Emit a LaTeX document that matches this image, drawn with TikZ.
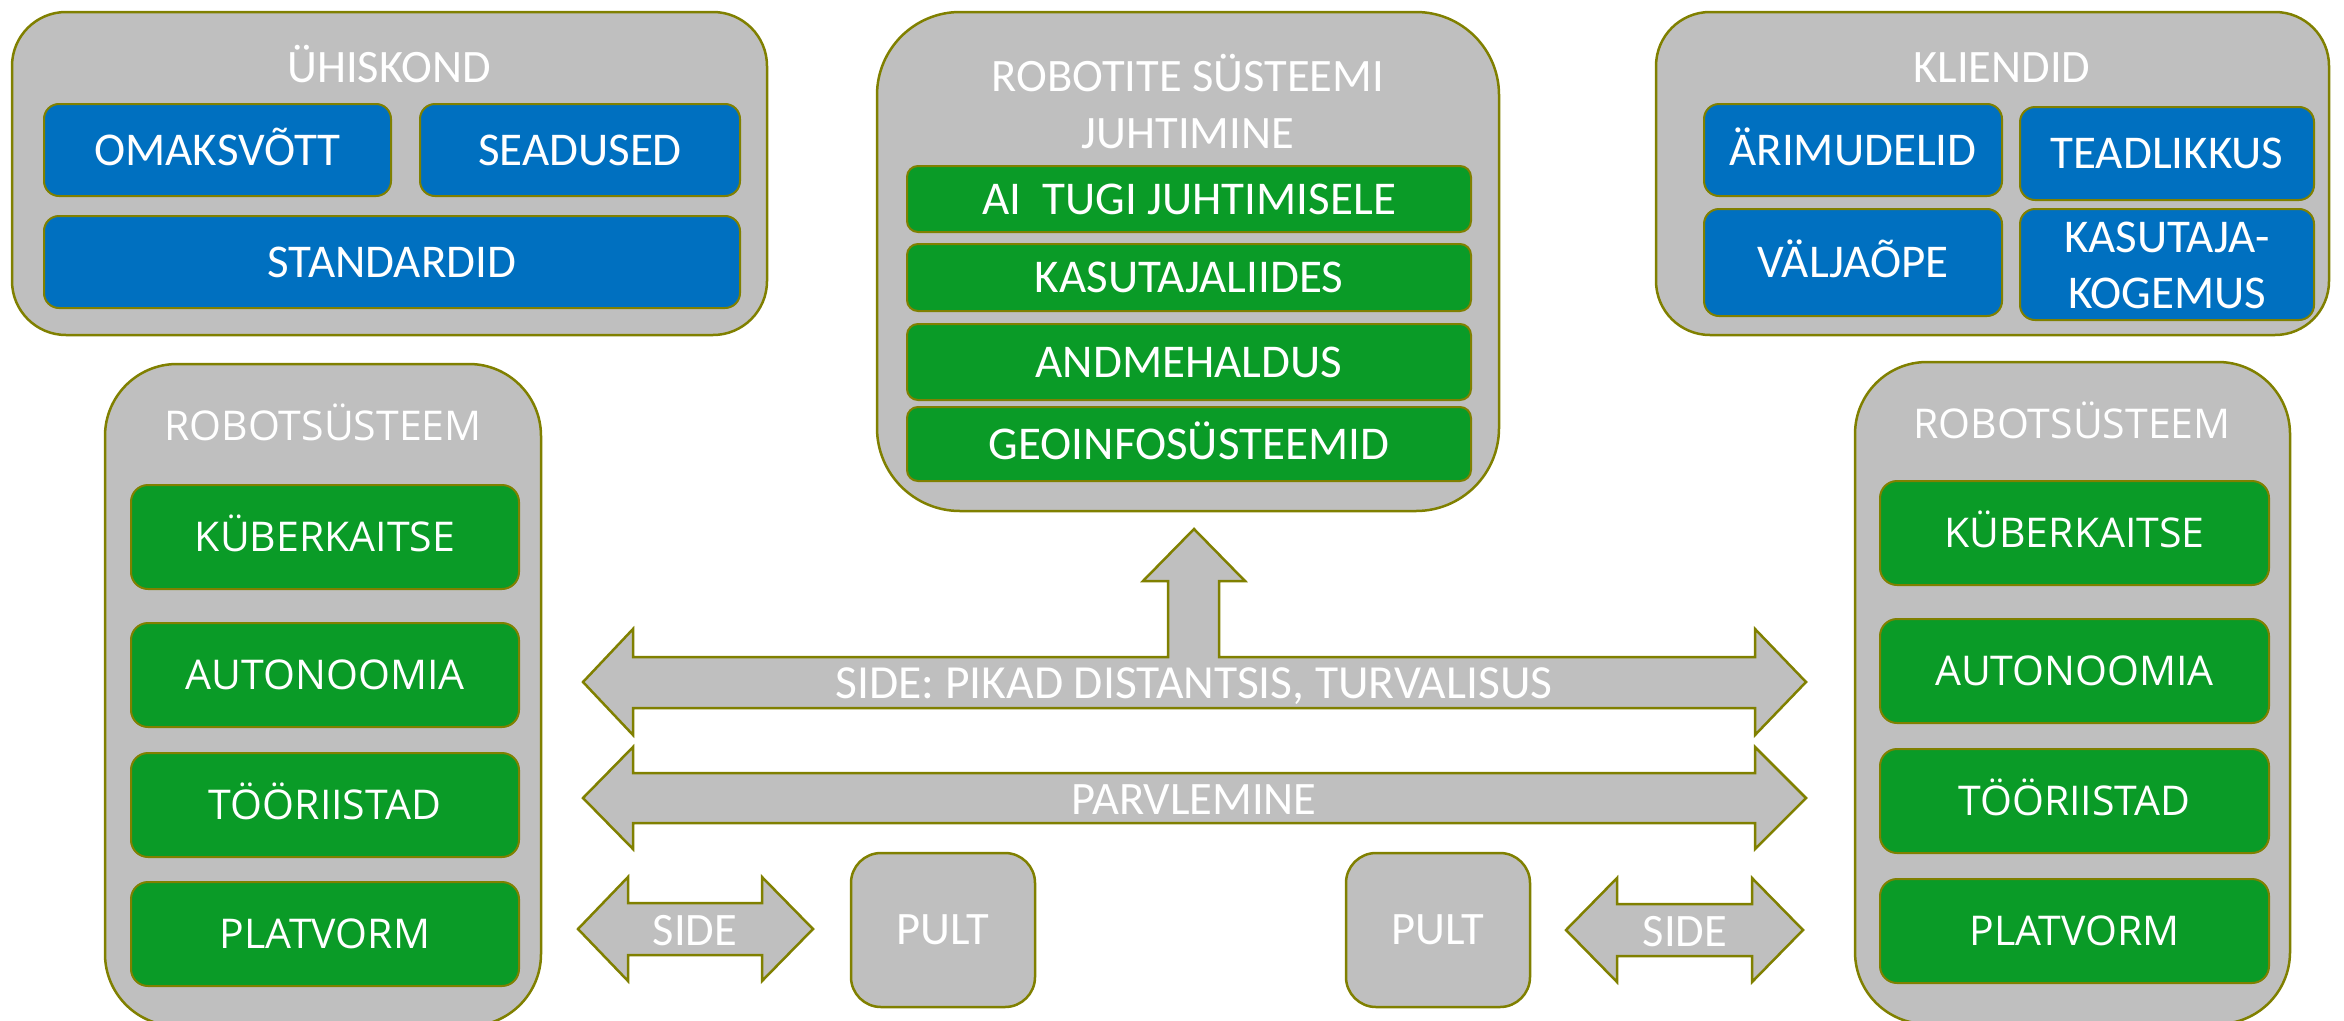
\documentclass[tikz,border=0pt]{standalone}
\usepackage{fontspec}
\setmainfont{Carlito}
\newfontfamily\widefont{Open Sans}
\definecolor{boxgray}{HTML}{BFBFBF}
\definecolor{edgeol}{HTML}{808000}
\definecolor{blueb}{HTML}{0070C0}
\definecolor{greenb}{HTML}{0A9B27}
\tikzset{
  outerbox/.style={rectangle, draw=edgeol, fill=boxgray, line width=2.5pt, inner sep=0pt},
  cal/.style={text=white, font=\fontsize{47}{56}\selectfont, text height=30pt, text depth=0pt, inner sep=0pt},
  ttl/.style={text=white, font=\fontsize{46.5}{55}\selectfont, text height=29.8pt, text depth=0pt, inner sep=0pt},
  atl/.style={text=white, font=\fontsize{47.5}{56}\selectfont, text height=30.5pt, text depth=0pt, inner sep=0pt},
  wtl/.style={text=white, font=\widefont\fontsize{41}{50}\selectfont, text height=29.3pt, text depth=0pt, inner sep=0pt},
  bluebox/.style={rectangle, draw=edgeol, fill=blueb, line width=2pt, inner sep=0pt, rounded corners=15pt, cal},
  greenbox/.style={rectangle, draw=edgeol, fill=greenb, line width=2pt, inner sep=0pt, rounded corners=11pt, cal},
  gbwide/.style={rectangle, draw=edgeol, fill=greenb, line width=2pt, inner sep=0pt, rounded corners=17pt, wtl},
  blockarrow/.style={draw=edgeol, fill=boxgray, line width=2.5pt, line join=miter},
}
\begin{document}
\begin{tikzpicture}[x=1pt,y=-1pt]
\useasboundingbox (0,0) rectangle (2344,1020);
\fill[white] (0,0) rectangle (2344,1020);

% ÜHISKOND
\node[outerbox, rounded corners=54pt, minimum width=755pt, minimum height=323pt] (soc) at (389.5,173.5) {};
\node[ttl] (socT) at (389,68) {ÜHISKOND};
\node[bluebox, minimum width=347pt, minimum height=92pt] (omak) at (217.5,150) {OMAKSVÕTT};
\node[bluebox, minimum width=320pt, minimum height=92pt] (sead) at (580,150) {SEADUSED};
\node[bluebox, minimum width=696pt, minimum height=92pt] (stan) at (392,262) {STANDARDID};

% ROBOTITE SÜSTEEMI JUHTIMINE
\node[outerbox, rounded corners=83pt, minimum width=622pt, minimum height=499pt] (mgmt) at (1188,261.5) {};
\node[ttl] (mgmtT1) at (1188,77) {ROBOTITE SÜSTEEMI};
\node[ttl] (mgmtT2) at (1188,134) {JUHTIMINE};
\node[greenbox, minimum width=564pt, minimum height=66pt] (ai) at (1189,199) {AI\ \ TUGI JUHTIMISELE};
\node[greenbox, minimum width=564pt, minimum height=67pt] (ui) at (1189,277.5) {KASUTAJALIIDES};
\node[greenbox, minimum width=564pt, minimum height=76pt] (data) at (1189,362) {ANDMEHALDUS};
\node[greenbox, minimum width=564pt, minimum height=74pt] (geo) at (1189,444) {GEOINFOSÜSTEEMID};

% KLIENDID
\node[outerbox, rounded corners=54pt, minimum width=673pt, minimum height=323pt] (cli) at (1992.5,173.5) {};
\node[ttl] (cliT) at (2002,68) {KLIENDID};
\node[bluebox, minimum width=298pt, minimum height=92pt] (ari) at (1853,150) {ÄRIMUDELID};
\node[bluebox, minimum width=294pt, minimum height=93pt] (tead) at (2167,153.5) {TEADLIKKUS};
\node[bluebox, minimum width=298pt, minimum height=107pt] (valj) at (1853,262.5) {VÄLJAÕPE};
\node[bluebox, minimum width=294pt, minimum height=111pt] (kas) at (2167,264.5) {};
\node[cal] (kas1) at (2167,237) {KASUTAJA-};
\node[cal] (kas2) at (2167,293) {KOGEMUS};

% Left ROBOTSÜSTEEM
\node[outerbox, rounded corners=72pt, minimum width=436pt, minimum height=662pt] (robL) at (323,695) {};
\node[wtl] (robLT) at (323,426) {ROBOTSÜSTEEM};
\node[gbwide, minimum width=388pt, minimum height=104pt] (kubL) at (325,537) {KÜBERKAITSE};
\node[gbwide, minimum width=388pt, minimum height=104pt] (autL) at (325,675) {AUTONOOMIA};
\node[gbwide, minimum width=388pt, minimum height=104pt] (tooL) at (325,805) {TÖÖRIISTAD};
\node[gbwide, minimum width=388pt, minimum height=104pt] (plaL) at (325,934) {PLATVORM};

% Right ROBOTSÜSTEEM
\node[outerbox, rounded corners=72pt, minimum width=435pt, minimum height=662pt] (robR) at (2072.5,693) {};
\node[wtl] (robRT) at (2072,424) {ROBOTSÜSTEEM};
\node[gbwide, minimum width=389pt, minimum height=104pt] (kubR) at (2074.5,533) {KÜBERKAITSE};
\node[gbwide, minimum width=389pt, minimum height=104pt] (autR) at (2074.5,671) {AUTONOOMIA};
\node[gbwide, minimum width=389pt, minimum height=104pt] (tooR) at (2074.5,801) {TÖÖRIISTAD};
\node[gbwide, minimum width=389pt, minimum height=104pt] (plaR) at (2074.5,931) {PLATVORM};

% PULT boxes
\node[outerbox, rounded corners=30pt, minimum width=184pt, minimum height=154pt, ttl] (pultL) at (943,930) {PULT};
\node[outerbox, rounded corners=30pt, minimum width=184pt, minimum height=154pt, ttl] (pultR) at (1438,930) {PULT};

% Arrow 1 with upward stem
\draw[blockarrow] (583,682) -- (633,629) -- (633,657) -- (1168,657) -- (1168,581) -- (1143,581)
  -- (1194,529) -- (1245,581) -- (1219,581) -- (1219,657) -- (1755,657) -- (1755,629)
  -- (1806,682) -- (1755,735) -- (1755,708) -- (633,708) -- (633,735) -- cycle;
\node[atl] (a1T) at (1194,683) {SIDE: PIKAD DISTANTSIS, TURVALISUS};

% Arrow 2
\draw[blockarrow] (583,798) -- (633,747) -- (633,773) -- (1755,773) -- (1755,747)
  -- (1806,798) -- (1755,849) -- (1755,823) -- (633,823) -- (633,849) -- cycle;
\node[ttl] (a2T) at (1194,800) {PARVLEMINE};

% Left SIDE arrow
\draw[blockarrow] (578,929) -- (628,877) -- (628,903) -- (762,903) -- (762,877)
  -- (813,929) -- (762,981) -- (762,955) -- (628,955) -- (628,981) -- cycle;
\node[ttl] (sL) at (695,931) {SIDE};

% Right SIDE arrow
\draw[blockarrow] (1566,930) -- (1617,878) -- (1617,904) -- (1752,904) -- (1752,878)
  -- (1803,930) -- (1752,982) -- (1752,956) -- (1617,956) -- (1617,982) -- cycle;
\node[ttl] (sR) at (1685,932) {SIDE};
\end{tikzpicture}
\end{document}
